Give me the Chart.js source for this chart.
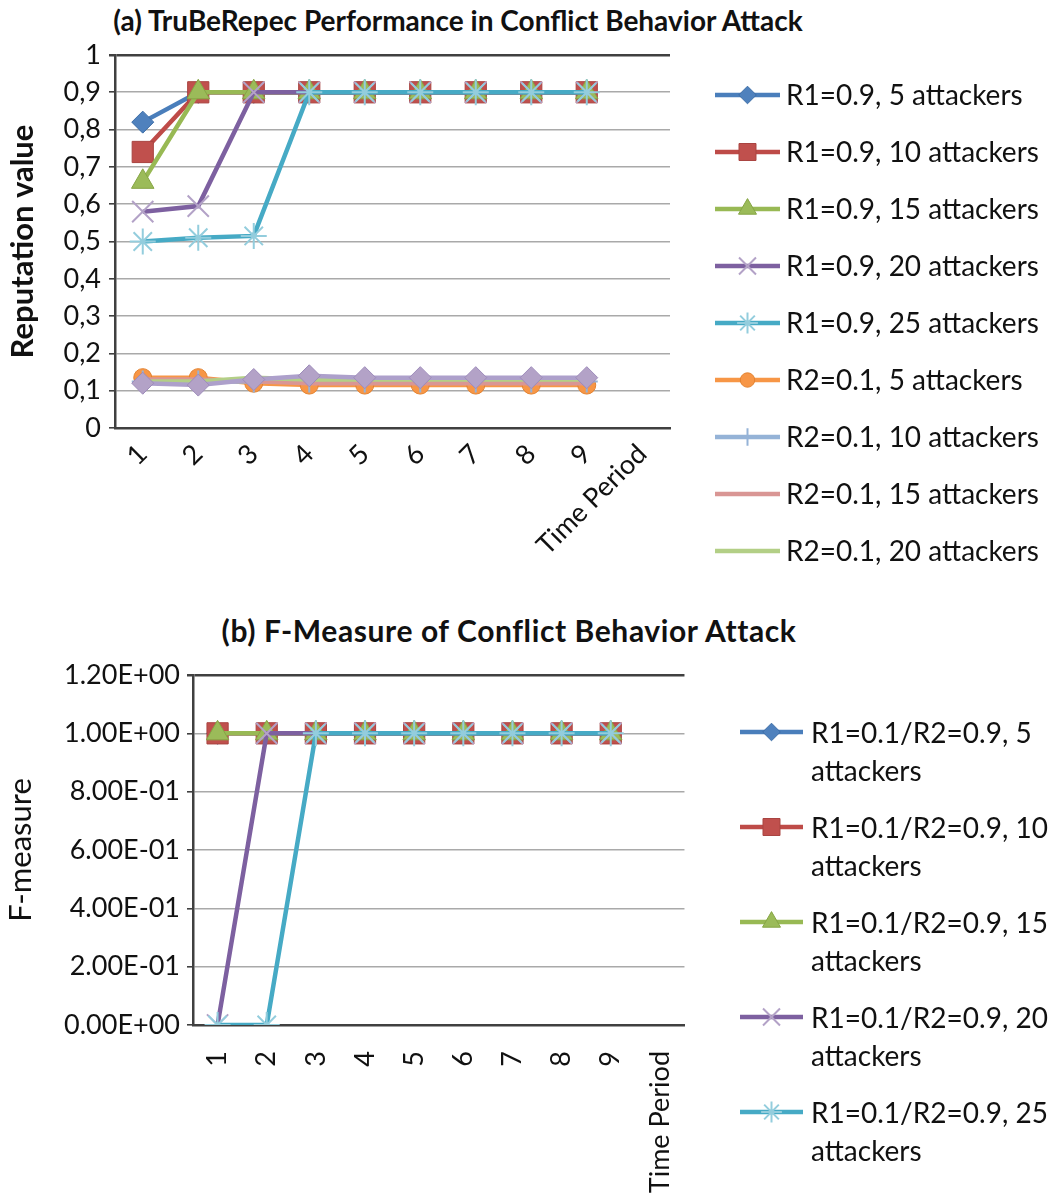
<!DOCTYPE html>
<html>
<head>
<meta charset="utf-8">
<script src="https://cdn.jsdelivr.net/npm/chart.js@4.4.1/dist/chart.umd.min.js"></script>
<style>
  html, body { margin: 0; padding: 0; background: #fff; }
  body { width: 1049px; height: 1203px; position: relative; overflow: hidden; font-family: Lato, sans-serif; color: #111; }
  .title { position: absolute; font-weight: bold; white-space: nowrap; transform: translate(-50%, -50%); }
  .plot { position: absolute; left: 0; }
  .legend { position: absolute; font-size: 28px; }
  .legend .row { display: flex; }
  .legend canvas { display: block; }
</style>
</head>
<body>
<div class="title" style="left:458px; top:20px; font-size:28px">(a) TruBeRepec Performance in Conflict Behavior Attack</div>
<canvas id="chartA" class="plot" style="top:0px" width="700" height="600"></canvas>
<div id="legendA" class="legend" style="left:715px; top:66px"></div>

<div class="title" style="left:509px; top:630px; font-size:30px; letter-spacing:0.6px">(b) F-Measure of Conflict Behavior Attack</div>
<canvas id="chartB" class="plot" style="top:600px" width="720" height="603"></canvas>
<div id="legendB" class="legend" style="left:740px; top:713px"></div>

<script>
// categories
const periods = ['1', '2', '3', '4', '5', '6', '7', '8', '9', 'Time Period'];

// (a) reputation value per time period
const repNames = [
  'R1=0.9, 5 attackers', 'R1=0.9, 10 attackers', 'R1=0.9, 15 attackers',
  'R1=0.9, 20 attackers', 'R1=0.9, 25 attackers',
  'R2=0.1, 5 attackers', 'R2=0.1, 10 attackers', 'R2=0.1, 15 attackers',
  'R2=0.1, 20 attackers', 'R2=0.1, 25 attackers'
];
const r1Att5  = [0.82, 0.9, 0.9, 0.9, 0.9, 0.9, 0.9, 0.9, 0.9];
const r1Att10 = [0.74, 0.9, 0.9, 0.9, 0.9, 0.9, 0.9, 0.9, 0.9];
const r1Att15 = [0.66, 0.9, 0.9, 0.9, 0.9, 0.9, 0.9, 0.9, 0.9];
const r1Att20 = [0.58, 0.595, 0.9, 0.9, 0.9, 0.9, 0.9, 0.9, 0.9];
const r1Att25 = [0.5, 0.51, 0.515, 0.9, 0.9, 0.9, 0.9, 0.9, 0.9];
const r2Att5  = [0.135, 0.135, 0.12, 0.115, 0.115, 0.115, 0.115, 0.115, 0.115];
const r2Att10 = [0.125, 0.125, 0.125, 0.125, 0.125, 0.125, 0.125, 0.125, 0.125];
const r2Att15 = [0.13, 0.13, 0.125, 0.12, 0.12, 0.12, 0.12, 0.12, 0.12];
const r2Att20 = [0.125, 0.125, 0.135, 0.13, 0.13, 0.13, 0.13, 0.13, 0.13];
const r2Att25 = [0.12, 0.115, 0.13, 0.14, 0.135, 0.135, 0.135, 0.135, 0.135];
const repTicks = ['0', '0,1', '0,2', '0,3', '0,4', '0,5', '0,6', '0,7', '0,8', '0,9', '1'];

// (b) F-measure per time period
const fNames = [
  'R1=0.1/R2=0.9, 5 attackers', 'R1=0.1/R2=0.9, 10 attackers', 'R1=0.1/R2=0.9, 15 attackers',
  'R1=0.1/R2=0.9, 20 attackers', 'R1=0.1/R2=0.9, 25 attackers'
];
const fAtt5  = [1, 1, 1, 1, 1, 1, 1, 1, 1];
const fAtt10 = [1, 1, 1, 1, 1, 1, 1, 1, 1];
const fAtt15 = [1, 1, 1, 1, 1, 1, 1, 1, 1];
const fAtt20 = [0, 1, 1, 1, 1, 1, 1, 1, 1];
const fAtt25 = [0, 0, 1, 1, 1, 1, 1, 1, 1];
const fTicks = ['0.00E+00', '2.00E-01', '4.00E-01', '6.00E-01', '8.00E-01', '1.00E+00', '1.20E+00'];

// series looks (Excel-like)
const looks = [
  { line: '#4A7EBB', marker: 'rectRot',  r: 11, fill: '#4F81BD', edge: '#3C6DA6', ew: 1 },
  { line: '#BE4B48', marker: 'rect',     r: 15, fill: '#C0504D', edge: '#A94441', ew: 1 },
  { line: '#98B954', marker: 'triangle', r: 13, fill: '#9BBB59', edge: '#86A545', ew: 1 },
  { line: '#7D60A0', marker: 'crossRot', r: 15, fill: '#B3A2C7', edge: '#B3A2C7', ew: 2 },
  { line: '#46AAC5', marker: 'star',     r: 13, fill: '#93CDDD', edge: '#93CDDD', ew: 2 },
  { line: '#F79646', marker: 'circle',   r: 9,  fill: '#F79646', edge: '#E3822F', ew: 1 },
  { line: '#95B3D7', marker: 'cross',    r: 11, fill: '#95B3D7', edge: '#95B3D7', ew: 2 },
  { line: '#D99694', marker: 'circle',   r: 0,  fill: '#D99694', edge: '#D99694', ew: 0 },
  { line: '#B3CF86', marker: 'circle',   r: 0,  fill: '#B3CF86', edge: '#B3CF86', ew: 0 },
  { line: '#ADA0CB', marker: 'rectRot',  r: 11, fill: '#B3A2C7', edge: '#9D8BBA', ew: 1 }
];

const font = 'Lato';
const ink = '#111';
const axisDark = '#404040';
const gridGray = '#a9a9a9';

Chart.defaults.font.family = font;
Chart.defaults.color = ink;

function makeSet(name, values, i, count) {
  const lk = looks[i];
  return {
    label: name,
    data: values,
    borderColor: lk.line,
    borderWidth: 4.5,
    pointStyle: lk.marker,
    pointRadius: lk.r,
    pointBackgroundColor: lk.fill,
    pointBorderColor: lk.edge,
    pointBorderWidth: lk.ew,
    pointHoverRadius: lk.r,
    tension: 0,
    fill: false,
    order: count - i // later series drawn on top, like Excel
  };
}

function yGrid(maxVal) {
  return {
    color: ctx => (ctx.tick && ctx.tick.value >= maxVal - 1e-9) ? axisDark : gridGray,
    lineWidth: ctx => (ctx.tick && ctx.tick.value >= maxVal - 1e-9) ? 2.5 : 1.6,
    tickLength: 6,
    tickColor: axisDark
  };
}

const repSeries = [r1Att5, r1Att10, r1Att15, r1Att20, r1Att25, r2Att5, r2Att10, r2Att15, r2Att20, r2Att25];
const fSeries = [fAtt5, fAtt10, fAtt15, fAtt20, fAtt25];

new Chart(document.getElementById('chartA'), {
  type: 'line',
  data: {
    labels: periods,
    datasets: repSeries.map((d, i) => makeSet(repNames[i], d, i, repSeries.length))
  },
  options: {
    responsive: false,
    animation: false,
    layout: { padding: { top: 55, right: 30, left: 0, bottom: 0 } },
    plugins: { legend: { display: false }, tooltip: { enabled: false } },
    scales: {
      x: {
        offset: true,
        grid: { display: false, drawTicks: false },
        border: { color: axisDark, width: 2.5 },
        ticks: { autoSkip: false, minRotation: 45, maxRotation: 45, padding: 10, font: { size: 27 }, color: ink },
        afterFit: s => { s.height = 172; }
      },
      y: {
        min: 0,
        max: 1,
        grid: yGrid(1),
        border: { color: axisDark, width: 2.5 },
        ticks: { stepSize: 0.1, padding: 8, font: { size: 27 }, color: ink, callback: v => repTicks[Math.round(v * 10)] },
        title: { display: true, text: 'Reputation value', color: ink, font: { size: 31, weight: 'bold' }, padding: { top: 4, bottom: 0 } },
        afterFit: s => { s.width = 115; }
      }
    }
  }
});

new Chart(document.getElementById('chartB'), {
  type: 'line',
  data: {
    labels: periods,
    datasets: fSeries.map((d, i) => makeSet(fNames[i], d, i, fSeries.length))
  },
  options: {
    responsive: false,
    animation: false,
    layout: { padding: { top: 75, right: 34, left: 0, bottom: 0 } },
    plugins: { legend: { display: false }, tooltip: { enabled: false } },
    scales: {
      x: {
        offset: true,
        grid: { display: false, drawTicks: false },
        border: { color: axisDark, width: 2.5 },
        ticks: { autoSkip: false, minRotation: 90, maxRotation: 90, padding: 26, font: { size: 27 }, color: ink },
        afterFit: s => { s.height = 178; }
      },
      y: {
        min: 0,
        max: 1.2,
        grid: yGrid(1.2),
        border: { color: axisDark, width: 2.5 },
        ticks: { stepSize: 0.2, padding: 7, font: { size: 27 }, color: ink, callback: v => fTicks[Math.round(v / 0.2)] },
        title: { display: true, text: 'F-measure', color: ink, font: { size: 31 }, padding: { top: 2, bottom: 0 } },
        afterFit: s => { s.width = 193; }
      }
    }
  }
});

// legend swatch: line with the series marker in the middle
function swatch(lk, w, h) {
  const cv = document.createElement('canvas');
  cv.width = w;
  cv.height = h;
  const ctx = cv.getContext('2d');
  ctx.strokeStyle = lk.line;
  ctx.lineWidth = 4.5;
  ctx.beginPath();
  ctx.moveTo(0, h / 2);
  ctx.lineTo(w, h / 2);
  ctx.stroke();
  if (lk.r > 0 && Chart.helpers && Chart.helpers.drawPoint) {
    ctx.fillStyle = lk.fill;
    ctx.strokeStyle = lk.edge;
    ctx.lineWidth = lk.ew;
    Chart.helpers.drawPoint(ctx, { pointStyle: lk.marker, radius: lk.r * 0.8, rotation: 0, borderWidth: lk.ew }, w / 2, h / 2);
  }
  return cv;
}

function buildLegend(el, names, opts) {
  names.forEach((name, i) => {
    const row = document.createElement('div');
    row.className = 'row';
    row.style.height = opts.rowH + 'px';
    row.style.alignItems = opts.align;
    const sw = swatch(looks[i], opts.swW, opts.swH);
    sw.style.marginRight = opts.gap + 'px';
    const txt = document.createElement('div');
    txt.style.lineHeight = opts.lineH + 'px';
    txt.style.whiteSpace = 'nowrap';
    if (opts.wrap) {
      txt.innerHTML = name.replace(' attackers', '<br>attackers');
    } else {
      txt.textContent = name;
    }
    row.appendChild(sw);
    row.appendChild(txt);
    el.appendChild(row);
  });
}

// the reference legend only shows the first nine series of chart (a)
buildLegend(document.getElementById('legendA'), repNames.slice(0, 9),
  { rowH: 57, lineH: 57, align: 'center', swW: 65, swH: 30, gap: 6, wrap: false });
buildLegend(document.getElementById('legendB'), fNames,
  { rowH: 95, lineH: 38, align: 'flex-start', swW: 63, swH: 38, gap: 8, wrap: true });
</script>
</body>
</html>
